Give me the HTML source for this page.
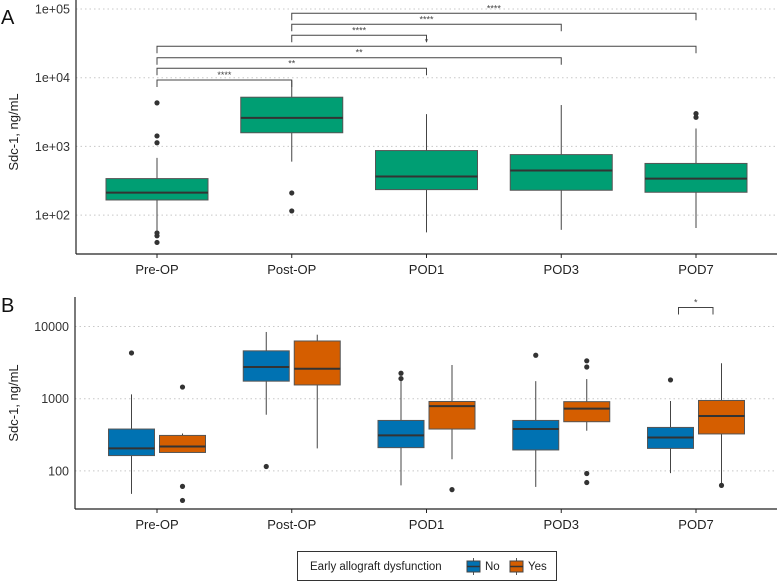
<!DOCTYPE html>
<html><head><meta charset="utf-8"><style>
html,body{margin:0;padding:0;background:#fff;}
svg{display:block;font-family:"Liberation Sans",Arial,sans-serif;}
</style></head><body>
<svg id="chart" width="779" height="584" viewBox="0 0 779 584" xmlns="http://www.w3.org/2000/svg">
<text x="1" y="24" font-size="20" fill="#111">A</text>
<text x="1" y="312" font-size="20" fill="#111">B</text>
<text transform="translate(18,132) rotate(-90)" text-anchor="middle" font-size="13" fill="#222">Sdc-1, ng/mL</text>
<text transform="translate(18,403) rotate(-90)" text-anchor="middle" font-size="13" fill="#222">Sdc-1, ng/mL</text>
<g id="pa"></g>
<g id="pb"></g>
<g>
<rect x="297.5" y="551.5" width="259" height="29" fill="#fff" stroke="#333" stroke-width="1"/>
<text x="310" y="570" font-size="11.5" fill="#222">Early allograft dysfunction</text>
<g>
<line x1="473.5" y1="558" x2="473.5" y2="575" stroke="#555"/>
<rect x="467" y="561" width="13" height="11" fill="#0072B2" stroke="#444"/>
<line x1="467" y1="566.5" x2="480" y2="566.5" stroke="#333" stroke-width="1.5"/>
<text x="485" y="570" font-size="11.5" fill="#222">No</text></g>
<g>
<line x1="516.5" y1="558" x2="516.5" y2="575" stroke="#555"/>
<rect x="510" y="561" width="13" height="11" fill="#D55E00" stroke="#444"/>
<line x1="510" y1="566.5" x2="523" y2="566.5" stroke="#333" stroke-width="1.5"/>
<text x="528" y="570" font-size="11.5" fill="#222">Yes</text></g>
</g>
</svg>
<script>
const categories = ["Pre-OP","Post-OP","POD1","POD3","POD7"];
// Panel A: [whiskerLow, q1, median, q3, whiskerHigh]
const allStats = [[60,166,212,340,680],[600,1580,2600,5200,9100],[56,235,365,870,2950],[61,230,445,760,4000],[65,215,340,565,1820]];
const allOutliers = [[4300,1420,1130,55,50,40],[210,115],[],[],[3000,2650]];
const aTicks = [100,1000,10000,100000];
const aTickLabels = ["1e+02","1e+03","1e+04","1e+05"];
// significance brackets: [fromIndex, toIndex, label]
const aBrackets = [[0,1,"****"],[0,2,"**"],[0,3,"**"],[0,4,"*"],[1,2,"****"],[1,3,"****"],[1,4,"****"]];
// Panel B
const groups = ["No","Yes"];
const noStats = [[48,163,205,380,1150],[600,1750,2750,4600,8400],[63,210,310,500,1900],[60,195,380,500,1750],[93,205,290,400,930]];
const yesStats = [[180,180,218,310,330],[205,1550,2600,6300,7700],[145,380,790,915,2930],[360,480,730,910,1870],[63,325,575,945,3100]];
const noOutliers = [[4300],[115],[2250,1900],[4000],[1820]];
const yesOutliers = [[1450,61,39],[],[55],[3350,2750,92,69],[63]];
const bTicks = [100,1000,10000];
const bTickLabels = ["100","1000","10000"];
const bBrackets = [[4,"*"]];

const NS="http://www.w3.org/2000/svg";
function mk(parent,tag,attrs){const e=document.createElementNS(NS,tag);for(const k in attrs)e.setAttribute(k,attrs[k]);parent.appendChild(e);return e;}
const xA=i=>157+i*134.75;
const yA=v=>9+(5-Math.log10(v))*68.7;
const yB=v=>326.5+(4-Math.log10(v))*72.2;

function axes(g,yf,ticks,labels,x0,top,bottom,prefix){
  ticks.forEach((t,i)=>{
    const gl=mk(g,"line",{x1:x0,x2:777,y1:yf(t),y2:yf(t),stroke:"#c8c8c8","stroke-dasharray":"1.5,3"});
    
    
    const tl=mk(g,"text",{x:x0-6,y:yf(t)+4.5,"text-anchor":"end","font-size":"12.5",fill:"#333"});
    tl.textContent=labels[i];
    
    
  });
  const ya=mk(g,"line",{x1:x0,x2:x0,y1:top,y2:bottom,stroke:"#222","stroke-width":1.2});
  
  
  const xa=mk(g,"line",{x1:x0,x2:777,y1:bottom,y2:bottom,stroke:"#222","stroke-width":1.2});
  
  
  categories.forEach((c,i)=>{
    mk(g,"line",{x1:xA(i),x2:xA(i),y1:bottom,y2:bottom+4,stroke:"#222"});
    const t=mk(g,"text",{x:xA(i),y:bottom+20,"text-anchor":"middle","font-size":"13",fill:"#222"});
    t.textContent=c;
    
    
  });
}
function box(g,cx,w,s,outs,yf,fill,name){
  const b=mk(g,"g",{});
  
  
  mk(b,"line",{x1:cx,x2:cx,y1:yf(s[0]),y2:yf(s[4]),stroke:"#444","stroke-width":1});
  mk(b,"rect",{x:cx-w/2,y:yf(s[3]),width:w,height:yf(s[1])-yf(s[3]),fill:fill,stroke:"#555","stroke-width":1});
  mk(b,"line",{x1:cx-w/2,x2:cx+w/2,y1:yf(s[2]),y2:yf(s[2]),stroke:"#333","stroke-width":2});
  outs.forEach(o=>{
    const c=mk(b,"circle",{cx:cx,cy:yf(o),r:2.6,fill:"#333"});
    
    
  });
}
const pa=document.getElementById("pa");
axes(pa,yA,aTicks,aTickLabels,76,0,254,"panel-a");
categories.forEach((c,i)=>box(pa,xA(i),102,allStats[i],allOutliers[i],yA,"#009E73","panel-a-box-"+c.toLowerCase()));
const bY=[80,68.3,57.7,46.3,35.3,24.3,13.3];
aBrackets.forEach((br,k)=>{
  const y=bY[k],x1=xA(br[0]),x2=xA(br[1]);
  const p=mk(pa,"path",{d:`M${x1},${y+7}V${y}H${x2}V${y+7}`,fill:"none",stroke:"#444","stroke-width":1});
  
  
  const t=mk(pa,"text",{x:(x1+x2)/2,y:y-2,"text-anchor":"middle","font-size":"9",fill:"#444"});
  t.textContent=br[2];
  
  
});
const pb=document.getElementById("pb");
axes(pb,yB,bTicks,bTickLabels,75,297,509,"panel-b");
categories.forEach((c,i)=>{
  box(pb,xA(i)-25.5,46,noStats[i],noOutliers[i],yB,"#0072B2","panel-b-box-"+c.toLowerCase()+"-no");
  box(pb,xA(i)+25.5,46,yesStats[i],yesOutliers[i],yB,"#D55E00","panel-b-box-"+c.toLowerCase()+"-yes");
});
bBrackets.forEach(br=>{
  const x1=xA(br[0])-17.5,x2=xA(br[0])+17,y=307.5;
  const p=mk(pb,"path",{d:`M${x1},${y+7}V${y}H${x2}V${y+7}`,fill:"none",stroke:"#444","stroke-width":1});
  
  
  const t=mk(pb,"text",{x:(x1+x2)/2,y:y-2,"text-anchor":"middle","font-size":"9",fill:"#444"});
  t.textContent=br[1];
  
  
});
</script>
</body></html>
